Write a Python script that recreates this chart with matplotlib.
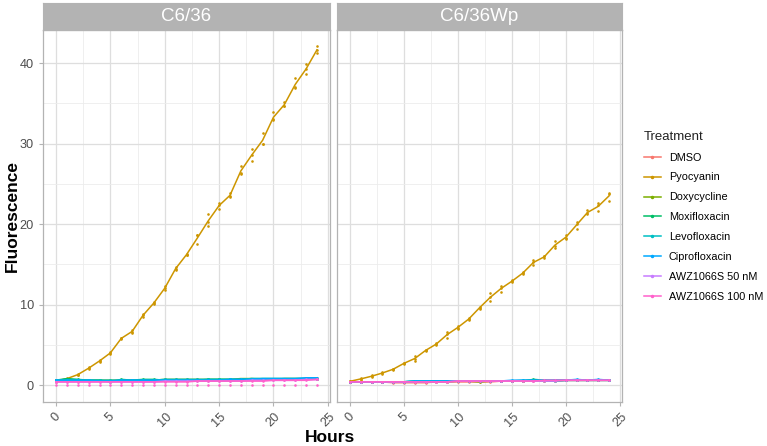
import numpy as np
import matplotlib
matplotlib.use("Agg")
import matplotlib.pyplot as plt
from matplotlib.lines import Line2D

plt.rcParams['font.family'] = ['Liberation Sans', 'DejaVu Sans']

hours = list(range(25))
panels = ["C6/36", "C6/36Wp"]
treatments = ["DMSO", "Pyocyanin", "Doxycycline", "Moxifloxacin", "Levofloxacin",
              "Ciprofloxacin", "AWZ1066S 50 nM", "AWZ1066S 100 nM"]
colors = ["#F8766D", "#CD9600", "#7CAE00", "#00BE67", "#00BFC4", "#00A9FF", "#C77CFF", "#FF61CC"]

# pyocyanin replicates
pyo_c636 = [
    [0.5, 0.9, 1.4, 2.2, 3.0, 4.1, 5.8, 6.9, 8.8, 10.3, 12.3, 14.7, 16.3, 18.7, 21.2, 22.6, 23.8, 27.2, 29.3, 31.3, 33.9, 35.2, 38.1, 39.9, 42.1],
    [0.4, 0.7, 1.2, 2.0, 3.1, 4.0, 5.7, 6.5, 8.5, 10.1, 11.8, 14.4, 16.1, 17.5, 20.3, 22.4, 23.5, 26.2, 27.8, 30.0, 33.0, 34.6, 37.0, 38.6, 41.6],
    [0.6, 0.8, 1.3, 2.1, 2.9, 3.9, 5.9, 6.6, 8.7, 10.2, 12.0, 14.3, 16.2, 18.6, 19.7, 21.9, 23.4, 26.4, 28.6, 29.9, 32.9, 34.7, 36.9, 39.3, 41.2],
]
pyo_wp = [
    [0.5, 0.9, 1.2, 1.6, 2.0, 2.8, 3.6, 4.4, 5.2, 6.6, 7.4, 8.3, 9.7, 11.4, 12.3, 13.0, 14.0, 15.5, 16.0, 17.9, 18.7, 20.3, 21.7, 22.6, 23.9],
    [0.4, 0.6, 1.1, 1.4, 2.0, 2.7, 3.3, 4.2, 5.0, 6.3, 7.0, 8.2, 9.6, 10.9, 11.6, 12.9, 13.9, 15.3, 15.8, 17.3, 18.3, 20.0, 21.4, 22.4, 23.7],
    [0.5, 0.8, 1.0, 1.5, 1.9, 2.6, 3.0, 4.3, 5.1, 5.9, 7.1, 8.1, 9.5, 10.4, 12.1, 12.8, 13.8, 14.9, 16.0, 17.0, 18.1, 19.4, 21.2, 21.6, 22.9],
]

# other treatments (means)
low_c636 = {
    "DMSO":            [0.5, 0.5, 0.5, 0.5, 0.5, 0.5, 0.5, 0.5, 0.5, 0.5, 0.6, 0.6, 0.6, 0.6, 0.6, 0.6, 0.6, 0.7, 0.7, 0.7, 0.7, 0.7, 0.7, 0.8, 0.8],
    "Doxycycline":     [0.6, 0.7, 0.6, 0.6, 0.6, 0.6, 0.6, 0.6, 0.6, 0.6, 0.7, 0.7, 0.7, 0.7, 0.7, 0.7, 0.7, 0.8, 0.8, 0.7, 0.7, 0.8, 0.8, 0.8, 0.8],
    "Moxifloxacin":    [0.6, 0.8, 0.7, 0.6, 0.6, 0.4, 0.7, 0.6, 0.7, 0.7, 0.6, 0.6, 0.6, 0.6, 0.7, 0.7, 0.7, 0.7, 0.8, 0.8, 0.8, 0.8, 0.8, 0.8, 0.9],
    "Levofloxacin":    [0.6, 0.6, 0.6, 0.6, 0.6, 0.6, 0.6, 0.6, 0.6, 0.6, 0.7, 0.7, 0.7, 0.7, 0.7, 0.7, 0.7, 0.7, 0.8, 0.8, 0.8, 0.8, 0.8, 0.8, 0.8],
    "Ciprofloxacin":   [0.6, 0.6, 0.6, 0.6, 0.5, 0.5, 0.6, 0.6, 0.6, 0.6, 0.6, 0.6, 0.6, 0.6, 0.6, 0.6, 0.7, 0.7, 0.7, 0.8, 0.8, 0.8, 0.8, 0.9, 0.9],
    "AWZ1066S 50 nM":  [0.4, 0.4, 0.4, 0.4, 0.4, 0.4, 0.4, 0.4, 0.4, 0.4, 0.5, 0.5, 0.5, 0.5, 0.5, 0.5, 0.5, 0.5, 0.6, 0.6, 0.6, 0.6, 0.6, 0.7, 0.7],
    "AWZ1066S 100 nM": [0.4, 0.4, 0.4, 0.4, 0.4, 0.4, 0.4, 0.4, 0.4, 0.4, 0.4, 0.4, 0.4, 0.5, 0.5, 0.5, 0.5, 0.5, 0.5, 0.5, 0.6, 0.6, 0.6, 0.6, 0.7],
}
awz100_c636_zero = [0.0, 0.0, 0.0, 0.0, 0.0, 0.0, 0.0, 0.0, 0.0, 0.0, 0.0, 0.0, 0.0, 0.0, 0.0, 0.0, 0.0, 0.0, 0.0, 0.0, 0.0, 0.0, 0.0, 0.0, 0.0]
low_wp = {
    "DMSO":            [0.4, 0.4, 0.4, 0.4, 0.3, 0.3, 0.3, 0.3, 0.4, 0.4, 0.4, 0.4, 0.4, 0.4, 0.5, 0.5, 0.5, 0.5, 0.5, 0.6, 0.6, 0.6, 0.6, 0.6, 0.6],
    "Doxycycline":     [0.4, 0.4, 0.4, 0.4, 0.4, 0.4, 0.4, 0.4, 0.4, 0.4, 0.5, 0.5, 0.4, 0.5, 0.5, 0.5, 0.5, 0.6, 0.5, 0.5, 0.6, 0.6, 0.6, 0.6, 0.6],
    "Moxifloxacin":    [0.4, 0.4, 0.4, 0.4, 0.4, 0.4, 0.5, 0.5, 0.5, 0.5, 0.5, 0.5, 0.5, 0.5, 0.5, 0.5, 0.5, 0.7, 0.6, 0.5, 0.6, 0.6, 0.6, 0.6, 0.6],
    "Levofloxacin":    [0.4, 0.4, 0.4, 0.4, 0.4, 0.4, 0.5, 0.5, 0.5, 0.5, 0.5, 0.5, 0.5, 0.5, 0.5, 0.5, 0.6, 0.6, 0.6, 0.6, 0.6, 0.6, 0.6, 0.6, 0.6],
    "Ciprofloxacin":   [0.4, 0.4, 0.4, 0.4, 0.4, 0.4, 0.5, 0.5, 0.5, 0.5, 0.5, 0.5, 0.5, 0.5, 0.5, 0.6, 0.6, 0.6, 0.6, 0.6, 0.6, 0.7, 0.6, 0.7, 0.6],
    "AWZ1066S 50 nM":  [0.4, 0.4, 0.4, 0.4, 0.4, 0.4, 0.4, 0.4, 0.4, 0.4, 0.5, 0.5, 0.5, 0.5, 0.5, 0.5, 0.5, 0.5, 0.5, 0.5, 0.6, 0.6, 0.6, 0.6, 0.6],
    "AWZ1066S 100 nM": [0.4, 0.4, 0.4, 0.4, 0.4, 0.4, 0.4, 0.4, 0.4, 0.4, 0.5, 0.5, 0.5, 0.5, 0.5, 0.5, 0.5, 0.5, 0.6, 0.6, 0.6, 0.6, 0.6, 0.6, 0.6],
}

fig = plt.figure(figsize=(7.67, 4.46), dpi=100)
W, H = 767, 446
panel_px = [(43, 330), (337, 622)]
top_px, bot_px, strip_px = 30, 402, 27

axes = []
for i, (x0, x1) in enumerate(panel_px):
    ax = fig.add_axes([x0 / W, 1 - bot_px / H, (x1 - x0) / W, (bot_px - top_px) / H])
    axes.append(ax)
    sax = fig.add_axes([x0 / W, 1 - top_px / H, (x1 - x0) / W, (strip_px) / H])
    sax.set_facecolor("#b3b3b3")
    sax.set_xticks([])
    sax.set_yticks([])
    for s in sax.spines.values():
        s.set_color("#b3b3b3")
    sax.text(0.5, 0.5, panels[i], color="white", fontsize=13.5, ha="center", va="center",
             transform=sax.transAxes)

for i, ax in enumerate(axes):
    ax.set_xlim(-1.2, 25.2)
    ax.set_ylim(-2.1, 44.1)
    ax.set_xticks([0, 5, 10, 15, 20, 25])
    ax.set_xticks([2.5, 7.5, 12.5, 17.5, 22.5], minor=True)
    ax.set_yticks([0, 10, 20, 30, 40])
    ax.set_yticks([5, 15, 25, 35], minor=True)
    ax.grid(which="major", color="#dedede", linewidth=0.9)
    ax.grid(which="minor", color="#ececec", linewidth=0.6)
    ax.set_axisbelow(True)
    for s in ax.spines.values():
        s.set_color("#b3b3b3")
        s.set_linewidth(0.9)
    ax.tick_params(which="major", length=3, color="#b3b3b3", labelcolor="#4d4d4d", labelsize=9.2)
    ax.tick_params(which="minor", length=0)
    for lab in ax.get_xticklabels():
        lab.set_rotation(45)
        lab.set_ha("center")
        lab.set_va("top")
    if i == 1:
        ax.tick_params(axis="y", labelleft=False, length=0)

    pyo = pyo_c636 if i == 0 else pyo_wp
    low = low_c636 if i == 0 else low_wp
    for t, c in zip(treatments, colors):
        if t == "Pyocyanin":
            reps = np.array(pyo)
            for r in reps:
                ax.scatter(hours, r, s=3.5, color=c, zorder=3, linewidths=0)
            ax.plot(hours, reps.mean(axis=0), color=c, linewidth=1.1, zorder=3)
        else:
            vals = low[t]
            ax.scatter(hours, vals, s=3.5, color=c, zorder=3, linewidths=0)
            ax.plot(hours, vals, color=c, linewidth=1.2, zorder=3)
            if i == 0 and t == "AWZ1066S 100 nM":
                ax.scatter(hours, awz100_c636_zero, s=3.5, color=c, zorder=3, linewidths=0)

fig.text(330 / W, 1 - 437 / H, "Hours", fontsize=12.5, fontweight="bold", ha="center", va="center")
fig.text(12 / W, 1 - 216 / H, "Fluorescence", fontsize=12.5, fontweight="bold", rotation=90,
         ha="center", va="center")

handles = [Line2D([0], [0], color=c, linewidth=1.1, marker="o", markersize=1.5) for c in colors]
leg = fig.legend(handles, treatments, title="Treatment", loc="upper left",
                 bbox_to_anchor=(634 / W, 1 - 121 / H), frameon=False, fontsize=7.8,
                 title_fontsize=9.5, handlelength=1.6, handletextpad=0.7, labelspacing=0.91,
                 alignment="left")
leg.get_title().set_color("#222222")

fig.savefig("out.png", dpi=100)
